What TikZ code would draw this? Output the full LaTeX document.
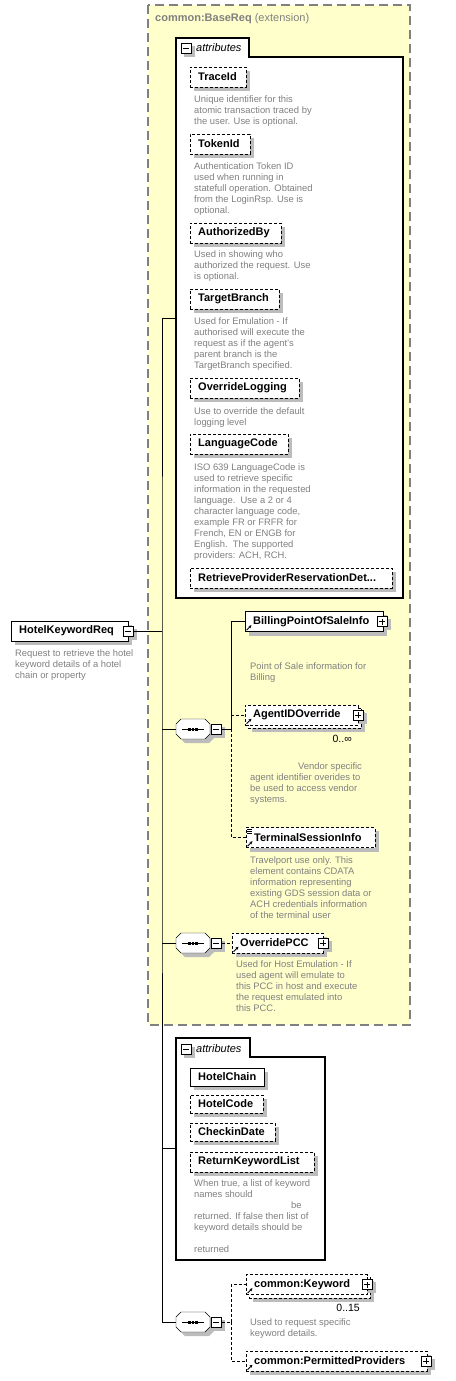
\documentclass[tikz,border=0pt]{standalone}
\usepackage{fontspec}
\setmainfont{Liberation Sans}
\usepackage{tikz}
\usetikzlibrary{arrows.meta,positioning,calc}
\definecolor{basefill}{RGB}{255,255,204}
\definecolor{descgray}{RGB}{128,128,128}
\definecolor{shadegray}{RGB}{188,188,188}
\pgfdeclarelayer{back}
\pgfdeclarelayer{shade}
\pgfsetlayers{back,shade,main}

\begin{document}
\begin{tikzpicture}[x=1pt, y=-1pt, line width=1pt,
  box/.style={draw, fill=white, anchor=west, minimum height=20pt, inner xsep=8pt, inner ysep=0pt, align=left, font=\fontsize{11}{13}\selectfont\bfseries},
  opt/.style={dash pattern=on 3pt off 2pt},
  desc/.style={anchor=north west, inner sep=0pt, align=left, text=descgray, font=\fontsize{9.4}{11}\selectfont},
  mult/.style={anchor=east, inner sep=0pt, font=\fontsize{10.5}{12}\selectfont},
  tog/.style={draw, solid, fill=white, minimum size=10pt, inner sep=0pt, line width=1pt},
  minus/.style={tog, path picture={\draw ([xshift=2pt]path picture bounding box.west) -- ([xshift=-2pt]path picture bounding box.east);}},
  plus/.style={tog, path picture={\draw ([xshift=2pt]path picture bounding box.west) -- ([xshift=-2pt]path picture bounding box.east); \draw ([yshift=2pt]path picture bounding box.south) -- ([yshift=-2pt]path picture bounding box.north);}},
  seq/.style={minimum width=34pt, minimum height=20pt, inner sep=0pt, anchor=west},
  group/.style={draw, fill=white, line width=1.2pt},
  grouptitle/.style={anchor=west, inner sep=0pt, font=\fontsize{11}{13}\selectfont\itshape},
  ref/.style={-{Stealth[length=3pt, width=3pt]}, line width=0.8pt}
]
  \useasboundingbox (0,0) rectangle (455,1381);

  \begin{pgfonlayer}{back}
    \fill [white] (0,0) rectangle (455,1381);
    \draw [fill=basefill, draw=descgray, line width=1.5pt, dash pattern=on 9pt off 5pt] (148,5) rectangle (410,1025);
    \draw [group] (176,598) -- (176,38) -- (249,38) -- (249,57) -- (403,57) -- (403,598) -- cycle;
    \draw [group] (176,1260) -- (176,1038) -- (250,1038) -- (250,1057) -- (325,1057) -- (325,1260) -- cycle;
  \end{pgfonlayer}

  \node (Base) [anchor=west, inner sep=0pt, text=descgray, font=\fontsize{11}{13}\selectfont] at (155,19) {\textbf{common:BaseReq} (extension)};

  \node (AttrAm) [minus] at (186,48.5) {};
  \node (AttrAt) [grouptitle] at (196,48) {attributes};

  \node (TraceId) [box, opt, text width=40pt] at (190,77) {TraceId};
  \node (TraceIdD) [desc] at (194,95.5) {Unique identifier for this\\atomic transaction traced by\\the user. Use is optional.};
  \node (TokenId) [box, opt, text width=44pt] at (190,144) {TokenId};
  \node (TokenIdD) [desc] at (194,162.5) {Authentication Token ID\\used when running in\\statefull operation. Obtained\\from the LoginRsp. Use is\\optional.};
  \node (AuthorizedBy) [box, opt, text width=75pt] at (190,233) {AuthorizedBy};
  \node (AuthorizedByD) [desc] at (194,250.5) {Used in showing who\\authorized the request. Use\\is optional.};
  \node (TargetBranch) [box, opt, text width=73pt] at (190,299) {TargetBranch};
  \node (TargetBranchD) [desc] at (194,317.5) {Used for Emulation - If\\authorised will execute the\\request as if the agent's\\parent branch is the\\TargetBranch specified.};
  \node (OverrideLogging) [box, opt, text width=93pt] at (190,388) {OverrideLogging};
  \node (OverrideLoggingD) [desc] at (194,407.5) {Use to override the default\\logging level};
  \node (LanguageCode) [box, opt, text width=82pt] at (190,444) {LanguageCode};
  \node (LanguageCodeD) [desc] at (194,463.5) {ISO 639 LanguageCode is\\used to retrieve specific\\information in the requested\\language.\ \ Use a 2 or 4\\character language code,\\example FR or FRFR for\\French, EN or ENGB for\\English.\ \ The supported\\providers: ACH, RCH.};
  \node (RetrieveProvider) [box, opt, text width=186pt] at (190,578) {RetrieveProviderReservationDet...};

  \node (Req) [box, text width=101pt] at (11,631) {HotelKeywordReq};
  \node (ReqM) [minus] at (Req.east) {};
  \node (ReqD) [desc] at (15,649.5) {Request to retrieve the hotel\\keyword details of a hotel\\chain or property};

  \coordinate (J) at (162,631);
  \coordinate (AttrA) at (176,318);
  \coordinate (AttrB) at (176,1148);
  \coordinate (BrA) at (231,729);
  \coordinate (BrC) at (231,1322);

  \node (SeqA) [seq] at (176,729) {};
  \node (SeqB) [seq] at (176,943) {};
  \node (SeqC) [seq] at (176,1322) {};
  \foreach \s in {SeqA,SeqB,SeqC} {
    \begin{pgfonlayer}{shade}
      \fill [shadegray] ([xshift=4pt,yshift=-4pt]\s.west) ++(0,-5) -- ++(5,-5) -- ++(24,0) -- ++(5,5) -- ++(0,10) -- ++(-5,5) -- ++(-24,0) -- ++(-5,-5) -- cycle;
    \end{pgfonlayer}
    \filldraw [fill=white] (\s.west) ++(0,-5) -- ++(5,-5) -- ++(24,0) -- ++(5,5) -- ++(0,10) -- ++(-5,5) -- ++(-24,0) -- ++(-5,-5) -- cycle;
    \draw ([xshift=-11pt]\s.center) -- ([xshift=11pt]\s.center);
    \foreach \d in {-3.5,0,3.5}
      \fill ([xshift=\d pt]\s.center) +(-1.25,-1.5) rectangle +(1.25,1.5);
  }
  \node (SeqAm) [minus] at (216,729) {};
  \node (SeqBm) [minus] at (216,943) {};
  \node (SeqCm) [minus] at (216,1322) {};

  \node (Billing) [box, text width=122pt] at (245,621.5) {BillingPointOfSaleInfo};
  \node (BillingP) [plus] at ([xshift=-1pt]Billing.east) {};
  \node (BillingD) [desc] at (250,662.5) {Point of Sale information for\\Billing};
  \node (Agent) [box, opt, text width=97pt] at (245,715) {AgentIDOverride};
  \node (AgentP) [plus] at (Agent.east) {};
  \node (AgentM) [mult] at (352,739) {0..∞};
  \node (AgentD) [desc] at (250,762.5) {\hspace*{48pt}Vendor specific\\agent identifier overides to\\be used to access vendor\\systems.};
  \node (Terminal) [box, opt, text width=113pt] at (246,837.5) {TerminalSessionInfo};
  \node (TerminalD) [desc] at (250,856.5) {Travelport use only. This\\element contains CDATA\\information representing\\existing GDS session data or\\ACH credentials information\\of the terminal user};

  \node (PCC) [box, opt, text width=75pt] at (232,943) {OverridePCC};
  \node (PCCP) [plus] at (PCC.east) {};
  \node (PCCD) [desc] at (236,960.5) {Used for Host Emulation - If\\used agent will emulate to\\this PCC in host and execute\\the request emulated into\\this PCC.};

  \node (AttrBm) [minus] at (186,1049) {};
  \node (AttrBt) [grouptitle] at (196,1049) {attributes};
  \node (HotelChain) [box, text width=58pt, minimum height=18pt] at (190,1077) {HotelChain};
  \node (HotelCode) [box, opt, text width=57pt, minimum height=18pt] at (190,1104) {HotelCode};
  \node (CheckinDate) [box, opt, text width=69pt, minimum height=18pt] at (190,1132) {CheckinDate};
  \node (ReturnKeywordList) [box, opt, text width=108pt] at (190,1162) {ReturnKeywordList};
  \node (ReturnKeywordListD) [desc] at (194,1179.5) {When true, a list of keyword\\names should\\\hspace*{97pt}be\\returned. If false then list of\\keyword details should be\\[11pt]returned};

  \node (Keyword) [box, opt, text width=105pt] at (246,1284.5) {common:Keyword};
  \node (KeywordP) [plus] at (Keyword.east) {};
  \node (KeywordM) [mult] at (360,1308) {0..15};
  \node (KeywordD) [desc] at (250,1318.5) {Used to request specific\\keyword details.};
  \node (Permitted) [box, opt, text width=165pt] at (246,1361) {common:PermittedProviders};
  \node (PermittedP) [plus] at ([xshift=-1pt]Permitted.east) {};

  \begin{pgfonlayer}{shade}
    \foreach \n in {TraceId,TokenId,AuthorizedBy,TargetBranch,OverrideLogging,LanguageCode,RetrieveProvider,Req,Billing,Terminal,PCC,HotelChain,HotelCode,CheckinDate,ReturnKeywordList,Permitted}
      \fill [shadegray] ([xshift=4pt,yshift=-4pt]\n.north west) rectangle ([xshift=4pt,yshift=-4pt]\n.south east);
    \foreach \n in {Agent,Keyword} {
      \fill [shadegray] ([xshift=7pt,yshift=-7pt]\n.north west) rectangle ([xshift=7pt,yshift=-7pt]\n.south east);
      \draw [opt, fill=white] ([xshift=3pt,yshift=-3pt]\n.north west) rectangle ([xshift=3pt,yshift=-3pt]\n.south east);
    }
    \foreach \n in {AttrAm,AttrBm,ReqM,SeqAm,SeqBm,SeqCm,BillingP,AgentP,PCCP,KeywordP,PermittedP}
      \fill [shadegray] ([xshift=3pt,yshift=-3pt]\n.north west) rectangle ([xshift=3pt,yshift=-3pt]\n.south east);
  \end{pgfonlayer}

  \draw (ReqM.east) -- (J);
  \draw (AttrA) -| (J) |- (SeqC.west);
  \draw (J |- SeqA.west) -- (SeqA.west);
  \draw (J |- SeqB.west) -- (SeqB.west);
  \draw (J |- AttrB) -- (AttrB);
  \draw (SeqAm.east) -- (BrA);
  \draw (BrA) |- (Billing.west);
  \draw [opt] (BrA |- Agent.west) -- (Agent.west);
  \draw [opt] (BrA) |- (Terminal.west);
  \draw [opt] (SeqBm.east) -- (PCC.west);
  \draw [opt] (SeqCm.east) -- (BrC);
  \draw [opt] (BrC) |- (Keyword.west);
  \draw [opt] (BrC) |- (Permitted.west);

  \foreach \e in {Billing,Agent,Terminal,PCC,Keyword,Permitted}
    \draw [ref] ([xshift=1.5pt,yshift=1.5pt]\e.south west) -- ++(5,-5);
  \foreach \k in {2,4,6}
    \draw [line width=0.8pt] ([xshift=1pt,yshift=-\k pt]Terminal.north west) -- ++(5,0);

\end{tikzpicture}
\end{document}
